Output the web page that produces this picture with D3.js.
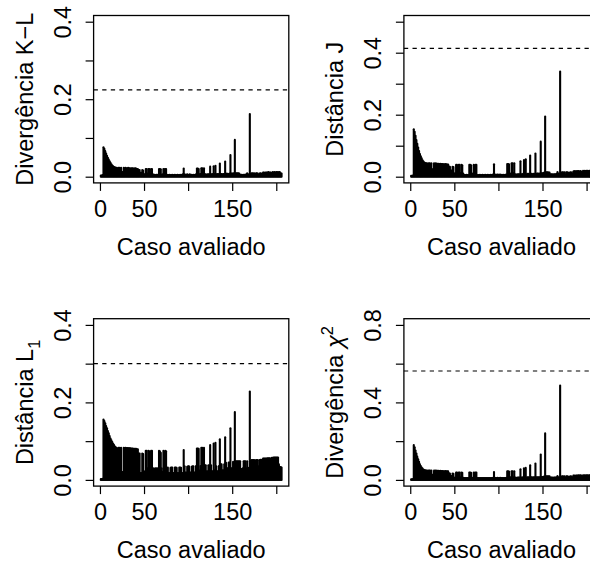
<!DOCTYPE html>
<html>
<head>
<meta charset="utf-8">
<script src="https://cdn.jsdelivr.net/npm/d3@7"></script>
<style>
  html, body { margin: 0; padding: 0; background: #fff; }
  svg { display: block; font-family: "Liberation Sans", Arial, Helvetica, sans-serif; }
</style>
</head>
<body>
<div id="chart"></div>
<script>
// one value per evaluated case (cases 1..206)
const klValues = [
  0.003, 0.003, 0.004, 0.076, 0.072, 0.066, 0.060, 0.054, 0.049, 0.044,
  0.040, 0.036, 0.032, 0.029, 0.027, 0.025, 0.024, 0.023, 0.023, 0.022,
  0.023, 0.023, 0.022, 0.023, 0.012, 0.012, 0.023, 0.022, 0.023, 0.022,
  0.022, 0.023, 0.022, 0.022, 0.021, 0.022, 0.022, 0.021, 0.021, 0.022,
  0.021, 0.020, 0.020, 0.017, 0.017, 0.010, 0.010, 0.017, 0.016, 0.006,
  0.006, 0.020, 0.020, 0.008, 0.020, 0.020, 0.007, 0.020, 0.020, 0.006,
  0.005, 0.005, 0.004, 0.005, 0.005, 0.004, 0.020, 0.020, 0.019, 0.005,
  0.006, 0.020, 0.019, 0.020, 0.020, 0.005, 0.004, 0.004, 0.005, 0.004,
  0.004, 0.005, 0.004, 0.004, 0.005, 0.004, 0.004, 0.005, 0.004, 0.004,
  0.005, 0.004, 0.005, 0.006, 0.021, 0.006, 0.005, 0.005, 0.006, 0.005,
  0.005, 0.006, 0.004, 0.005, 0.004, 0.005, 0.004, 0.005, 0.006, 0.021,
  0.021, 0.020, 0.006, 0.007, 0.022, 0.022, 0.008, 0.022, 0.006, 0.006,
  0.005, 0.006, 0.006, 0.006, 0.026, 0.006, 0.006, 0.007, 0.027, 0.007,
  0.028, 0.006, 0.007, 0.007, 0.006, 0.034, 0.007, 0.007, 0.006, 0.007,
  0.007, 0.039, 0.007, 0.008, 0.007, 0.007, 0.008, 0.056, 0.008, 0.008,
  0.008, 0.009, 0.095, 0.009, 0.009, 0.009, 0.009, 0.008, 0.005, 0.005,
  0.005, 0.004, 0.005, 0.005, 0.005, 0.006, 0.009, 0.006, 0.005, 0.162,
  0.007, 0.009, 0.009, 0.008, 0.009, 0.005, 0.009, 0.009, 0.008, 0.005,
  0.008, 0.009, 0.008, 0.006, 0.011, 0.011, 0.010, 0.011, 0.011, 0.011,
  0.012, 0.011, 0.011, 0.011, 0.006, 0.012, 0.011, 0.012, 0.011, 0.012,
  0.012, 0.011, 0.012, 0.012, 0.009, 0.008
];

const jValues = [
  0.003, 0.003, 0.004, 0.153, 0.145, 0.132, 0.118, 0.106, 0.094, 0.083,
  0.073, 0.066, 0.059, 0.053, 0.049, 0.046, 0.044, 0.043, 0.043, 0.042,
  0.043, 0.043, 0.042, 0.043, 0.024, 0.024, 0.043, 0.042, 0.043, 0.042,
  0.042, 0.042, 0.041, 0.042, 0.041, 0.041, 0.041, 0.040, 0.040, 0.041,
  0.040, 0.039, 0.039, 0.033, 0.032, 0.020, 0.020, 0.032, 0.031, 0.010,
  0.011, 0.038, 0.038, 0.014, 0.038, 0.038, 0.012, 0.038, 0.037, 0.010,
  0.006, 0.005, 0.005, 0.006, 0.005, 0.005, 0.038, 0.038, 0.037, 0.008,
  0.010, 0.038, 0.037, 0.038, 0.038, 0.005, 0.005, 0.005, 0.006, 0.005,
  0.005, 0.006, 0.005, 0.005, 0.006, 0.005, 0.005, 0.006, 0.005, 0.005,
  0.006, 0.005, 0.006, 0.007, 0.040, 0.007, 0.006, 0.006, 0.007, 0.006,
  0.006, 0.007, 0.005, 0.006, 0.005, 0.006, 0.005, 0.006, 0.007, 0.041,
  0.041, 0.040, 0.008, 0.010, 0.043, 0.043, 0.012, 0.043, 0.008, 0.007,
  0.007, 0.008, 0.008, 0.008, 0.050, 0.008, 0.008, 0.009, 0.054, 0.009,
  0.056, 0.008, 0.009, 0.009, 0.008, 0.068, 0.009, 0.009, 0.008, 0.009,
  0.009, 0.075, 0.009, 0.010, 0.010, 0.009, 0.010, 0.113, 0.011, 0.011,
  0.012, 0.013, 0.194, 0.014, 0.014, 0.014, 0.013, 0.013, 0.008, 0.008,
  0.008, 0.007, 0.008, 0.008, 0.008, 0.009, 0.015, 0.010, 0.008, 0.339,
  0.011, 0.014, 0.014, 0.013, 0.014, 0.008, 0.014, 0.014, 0.013, 0.008,
  0.013, 0.014, 0.013, 0.010, 0.017, 0.018, 0.016, 0.018, 0.017, 0.018,
  0.018, 0.017, 0.018, 0.017, 0.010, 0.019, 0.018, 0.019, 0.018, 0.019,
  0.019, 0.018, 0.019, 0.019, 0.014, 0.012
];

const l1Values = [
  0.002, 0.002, 0.003, 0.156, 0.152, 0.146, 0.139, 0.133, 0.126, 0.120,
  0.113, 0.107, 0.102, 0.098, 0.093, 0.090, 0.086, 0.084, 0.082, 0.081,
  0.083, 0.083, 0.082, 0.083, 0.020, 0.020, 0.083, 0.082, 0.083, 0.082,
  0.082, 0.082, 0.081, 0.082, 0.081, 0.081, 0.081, 0.080, 0.080, 0.080,
  0.080, 0.079, 0.079, 0.068, 0.068, 0.018, 0.018, 0.068, 0.067, 0.017,
  0.022, 0.075, 0.075, 0.030, 0.075, 0.074, 0.025, 0.075, 0.075, 0.018,
  0.030, 0.028, 0.030, 0.029, 0.030, 0.018, 0.075, 0.074, 0.070, 0.030,
  0.020, 0.075, 0.072, 0.075, 0.074, 0.030, 0.032, 0.018, 0.018, 0.031,
  0.032, 0.032, 0.018, 0.018, 0.032, 0.032, 0.031, 0.018, 0.018, 0.032,
  0.032, 0.031, 0.018, 0.018, 0.077, 0.035, 0.019, 0.019, 0.034, 0.035,
  0.035, 0.019, 0.019, 0.034, 0.035, 0.035, 0.019, 0.019, 0.036, 0.081,
  0.081, 0.080, 0.024, 0.036, 0.083, 0.083, 0.028, 0.083, 0.038, 0.038,
  0.022, 0.022, 0.038, 0.037, 0.090, 0.038, 0.022, 0.022, 0.094, 0.025,
  0.096, 0.035, 0.022, 0.022, 0.036, 0.105, 0.040, 0.040, 0.025, 0.025,
  0.040, 0.110, 0.044, 0.030, 0.030, 0.045, 0.045, 0.133, 0.030, 0.030,
  0.047, 0.033, 0.175, 0.048, 0.048, 0.048, 0.048, 0.048, 0.048, 0.028,
  0.028, 0.030, 0.048, 0.048, 0.048, 0.030, 0.048, 0.031, 0.030, 0.228,
  0.049, 0.051, 0.051, 0.051, 0.051, 0.030, 0.051, 0.051, 0.051, 0.035,
  0.051, 0.052, 0.052, 0.035, 0.055, 0.055, 0.055, 0.055, 0.055, 0.056,
  0.056, 0.056, 0.056, 0.040, 0.057, 0.057, 0.058, 0.058, 0.058, 0.058,
  0.058, 0.058, 0.040, 0.033, 0.033, 0.032
];

const chiValues = [
  0.003, 0.003, 0.004, 0.180, 0.168, 0.152, 0.136, 0.120, 0.106, 0.093,
  0.081, 0.072, 0.064, 0.058, 0.054, 0.051, 0.049, 0.048, 0.048, 0.047,
  0.048, 0.048, 0.047, 0.048, 0.026, 0.026, 0.048, 0.047, 0.048, 0.047,
  0.047, 0.047, 0.046, 0.047, 0.046, 0.046, 0.046, 0.045, 0.045, 0.046,
  0.045, 0.044, 0.044, 0.034, 0.033, 0.020, 0.020, 0.033, 0.032, 0.011,
  0.012, 0.038, 0.038, 0.015, 0.038, 0.038, 0.013, 0.038, 0.037, 0.011,
  0.010, 0.009, 0.009, 0.010, 0.009, 0.009, 0.038, 0.038, 0.037, 0.010,
  0.011, 0.038, 0.037, 0.038, 0.038, 0.009, 0.009, 0.009, 0.010, 0.009,
  0.009, 0.010, 0.009, 0.009, 0.010, 0.009, 0.009, 0.010, 0.009, 0.009,
  0.010, 0.009, 0.010, 0.011, 0.041, 0.011, 0.010, 0.010, 0.011, 0.010,
  0.010, 0.011, 0.009, 0.010, 0.009, 0.010, 0.009, 0.010, 0.011, 0.044,
  0.044, 0.043, 0.012, 0.013, 0.045, 0.045, 0.014, 0.045, 0.012, 0.011,
  0.011, 0.012, 0.012, 0.012, 0.055, 0.012, 0.012, 0.013, 0.060, 0.013,
  0.062, 0.012, 0.013, 0.013, 0.012, 0.076, 0.013, 0.013, 0.012, 0.013,
  0.013, 0.085, 0.013, 0.014, 0.014, 0.013, 0.014, 0.131, 0.015, 0.015,
  0.016, 0.017, 0.240, 0.019, 0.019, 0.019, 0.018, 0.018, 0.012, 0.012,
  0.012, 0.011, 0.012, 0.012, 0.012, 0.013, 0.020, 0.014, 0.012, 0.487,
  0.015, 0.018, 0.018, 0.017, 0.018, 0.012, 0.018, 0.018, 0.017, 0.012,
  0.017, 0.018, 0.017, 0.014, 0.022, 0.023, 0.021, 0.023, 0.022, 0.023,
  0.024, 0.023, 0.024, 0.023, 0.014, 0.024, 0.023, 0.024, 0.023, 0.024,
  0.024, 0.023, 0.024, 0.024, 0.018, 0.015
];

// per panel: K-L, J, L1, chi-square
const cutoffs = [0.224, 0.414, 0.300, 0.562];
const yMaxes = [0.4, 0.5, 0.4, 0.8];
const yTicks = [
  [0, 0.1, 0.2, 0.3, 0.4],
  [0, 0.1, 0.2, 0.3, 0.4, 0.5],
  [0, 0.1, 0.2, 0.3, 0.4],
  [0, 0.2, 0.4, 0.6, 0.8]
];
const yTickLabels = [[0, 0.2, 0.4], [0, 0.2, 0.4], [0, 0.2, 0.4], [0, 0.4, 0.8]];
const yTitles = [
  [{ text: 'Divergência K−L' }],
  [{ text: 'Distância J' }],
  [{ text: 'Distância L' }, { text: '1', shift: 7, small: true }],
  [{ text: 'Divergência ' }, { text: 'χ', italic: true }, { text: '2', shift: -10, small: true }]
];
const xTicks = [0, 50, 100, 150, 200];
const xTickLabels = [0, 50, 150];
const xTitle = 'Caso avaliado';

const W = 590, H = 567;
const fontSize = 23.5;
const boxW = 195.2, boxH = 167.4;
const origins = [[93.6, 15.5], [403.9, 15.5], [93.6, 318.7], [403.9, 318.7]];

const svg = d3.select('#chart').append('svg')
  .attr('width', W)
  .attr('height', H)
  .attr('viewBox', `0 0 ${W} ${H}`);

function drawPanel(values, k) {
  const [ox, oy] = origins[k];
  const n = values.length;
  const xPad = 0.04 * (n - 1);
  const x = d3.scaleLinear().domain([1 - xPad, n + xPad]).range([0, boxW]);
  const yMax = yMaxes[k];
  const y = d3.scaleLinear().domain([-0.04 * yMax, 1.04 * yMax]).range([boxH, 0]);

  const g = svg.append('g').attr('transform', `translate(${ox},${oy})`);

  // type = "h" bars
  g.append('g')
    .selectAll('line')
    .data(values)
    .join('line')
    .attr('x1', (d, i) => x(i + 1))
    .attr('x2', (d, i) => x(i + 1))
    .attr('y1', y(0))
    .attr('y2', d => y(d))
    .attr('stroke', '#000')
    .attr('stroke-width', 2.1)
    .attr('stroke-linecap', 'round');

  g.append('line')
    .attr('x1', 0).attr('x2', boxW)
    .attr('y1', y(cutoffs[k])).attr('y2', y(cutoffs[k]))
    .attr('stroke', '#000')
    .attr('stroke-width', 1.1)
    .attr('stroke-dasharray', '4.3,4.3');

  g.append('rect')
    .attr('width', boxW).attr('height', boxH)
    .attr('fill', 'none')
    .attr('stroke', '#000')
    .attr('stroke-width', 1.3);

  const xAxis = g.append('g')
    .attr('transform', `translate(0,${boxH})`)
    .call(d3.axisBottom(x).tickValues(xTicks).tickSize(8).tickSizeOuter(0)
      .tickFormat(d => xTickLabels.includes(d) ? d : ''));
  xAxis.select('.domain').remove();
  xAxis.selectAll('line').attr('stroke', '#000').attr('stroke-width', 1.2);
  xAxis.selectAll('text')
    .attr('y', 33.7).attr('dy', null)
    .attr('font-size', fontSize).attr('font-family', null).attr('fill', '#000');

  const yAxis = g.append('g')
    .call(d3.axisLeft(y).tickValues(yTicks[k]).tickSize(8).tickSizeOuter(0)
      .tickFormat(d => yTickLabels[k].includes(d) ? d3.format('.1f')(d) : ''));
  yAxis.select('.domain').remove();
  yAxis.selectAll('line').attr('stroke', '#000').attr('stroke-width', 1.2);
  yAxis.selectAll('text')
    .attr('x', null).attr('dy', null)
    .attr('transform', 'translate(-22.5,0) rotate(-90)')
    .attr('text-anchor', 'middle')
    .attr('font-size', fontSize).attr('font-family', null).attr('fill', '#000');

  g.append('text')
    .attr('x', boxW / 2).attr('y', boxH + 72)
    .attr('text-anchor', 'middle')
    .attr('font-size', fontSize)
    .text(xTitle);

  const yt = g.append('text')
    .attr('transform', `translate(-61,${boxH / 2}) rotate(-90)`)
    .attr('text-anchor', 'middle')
    .attr('font-size', fontSize);
  yTitles[k].forEach(part => {
    const ts = yt.append('tspan').text(part.text);
    if (part.italic) ts.attr('font-style', 'italic');
    if (part.small) ts.attr('font-size', fontSize * 0.7);
    if (part.shift) ts.attr('dy', part.shift);
  });
}

[klValues, jValues, l1Values, chiValues].forEach(drawPanel);
</script>
</body>
</html>
